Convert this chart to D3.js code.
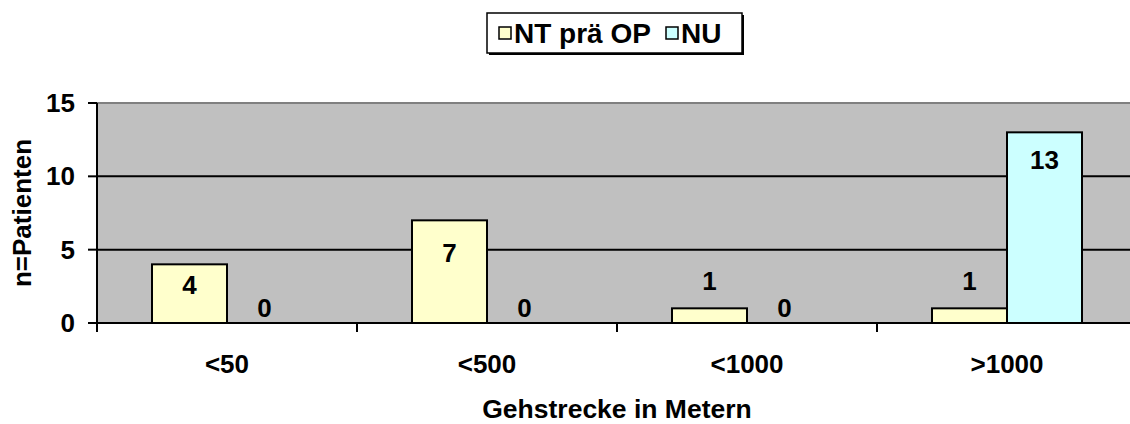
<!DOCTYPE html>
<html>
<head>
<meta charset="utf-8">
<script src="https://cdn.jsdelivr.net/npm/d3@7"></script>
<style>
  body { margin: 0; background: #fff; }
  text { font-family: "Liberation Sans", Arial, sans-serif; font-weight: bold; fill: #000; }
</style>
</head>
<body>
<div id="chart"></div>
<script>
// data
var categories = ["<50", "<500", "<1000", ">1000"];
var seriesNames = ["NT prä OP", "NU"];
var ntValues = [4, 7, 1, 1];
var nuValues = [0, 0, 0, 13];
var yTicks = [0, 5, 10, 15];
var xTitle = "Gehstrecke in Metern";
var yTitle = "n=Patienten";

var W = 1130, H = 424;
var margin = {top: 103, left: 97, bottom: 101};
var plotW = 1040, plotH = H - margin.top - margin.bottom;

var colors = {"NT prä OP": "#ffffcc", "NU": "#ccffff"};

var svg = d3.select("#chart").append("svg")
    .attr("width", W).attr("height", H);

var g = svg.append("g")
    .attr("transform", "translate(" + margin.left + "," + margin.top + ")");

var x0 = d3.scaleBand().domain(categories).range([0, plotW]).padding(0);
var x1 = d3.scaleBand().domain(seriesNames).range([0, x0.bandwidth()])
    .paddingInner(0).paddingOuter(0.7333);
var y = d3.scaleLinear().domain([0, 15]).range([plotH, 0]);

// plot background
g.append("rect")
    .attr("x", 0).attr("y", 0)
    .attr("width", plotW).attr("height", plotH)
    .style("fill", "#c0c0c0");

g.append("line")
    .attr("x1", 0).attr("x2", plotW).attr("y1", 0).attr("y2", 0)
    .style("stroke", "#808080").style("stroke-width", 2);

// gridlines
g.selectAll(".grid")
  .data(yTicks.filter(function(d) { return d > 0 && d < 15; }))
  .enter().append("line")
    .attr("x1", 0).attr("x2", plotW)
    .attr("y1", function(d) { return y(d); })
    .attr("y2", function(d) { return y(d); })
    .style("stroke", "#000").style("stroke-width", 2);

// bars
var rows = categories.map(function(c, i) {
  return [
    {cat: c, s: seriesNames[0], v: ntValues[i], i: i},
    {cat: c, s: seriesNames[1], v: nuValues[i], i: i}
  ];
});

var groups = g.selectAll(".grp")
  .data(rows)
  .enter().append("g")
    .attr("transform", function(d) { return "translate(" + x0(d[0].cat) + ",0)"; });

groups.selectAll("rect")
  .data(function(d) { return d.filter(function(e) { return e.v > 0; }); })
  .enter().append("rect")
    .attr("x", function(d) { return x1(d.s); })
    .attr("y", function(d) { return y(d.v); })
    .attr("width", x1.bandwidth())
    .attr("height", function(d) { return y(0) - y(d.v); })
    .style("fill", function(d) { return colors[d.s]; })
    .style("stroke", "#000").style("stroke-width", 2);

// value labels, pixel offset from the bar top as placed in the original
var ntLabelOff = [21, 33, -27, -27];
var nuLabelOff = [-15, -15, -15, 28];

groups.selectAll(".lbl")
  .data(function(d) { return d; })
  .enter().append("text")
    .attr("x", function(d) { return x1(d.s) + x1.bandwidth() / 2; })
    .attr("y", function(d) {
      var off = d.s === seriesNames[0] ? ntLabelOff[d.i] : nuLabelOff[d.i];
      return y(d.v) + off;
    })
    .attr("text-anchor", "middle")
    .attr("dominant-baseline", "central")
    .style("font-size", "26px")
    .text(function(d) { return d.v; });

// x axis
var xAxis = g.append("g")
    .attr("transform", "translate(0," + plotH + ")");
xAxis.append("line")
    .attr("x1", 0).attr("x2", plotW)
    .style("stroke", "#000").style("stroke-width", 2);
xAxis.selectAll(".tk")
  .data(d3.range(categories.length + 1))
  .enter().append("line")
    .attr("x1", function(d) { return d * x0.step(); })
    .attr("x2", function(d) { return d * x0.step(); })
    .attr("y1", 0).attr("y2", 9)
    .style("stroke", "#000").style("stroke-width", 2);
xAxis.selectAll(".cl")
  .data(categories)
  .enter().append("text")
    .attr("x", function(d) { return x0(d) + x0.bandwidth() / 2; })
    .attr("y", 41)
    .attr("text-anchor", "middle")
    .attr("dominant-baseline", "central")
    .style("font-size", "26px")
    .text(function(d) { return d; });

// y axis
var yAxis = g.append("g");
yAxis.append("line")
    .attr("x1", 0).attr("x2", 0).attr("y1", 0).attr("y2", plotH + 9)
    .style("stroke", "#000").style("stroke-width", 2);
yAxis.selectAll(".yt")
  .data(yTicks)
  .enter().append("line")
    .attr("x1", -9).attr("x2", 0)
    .attr("y1", function(d) { return y(d); })
    .attr("y2", function(d) { return y(d); })
    .style("stroke", "#000").style("stroke-width", 2);
yAxis.selectAll(".yl")
  .data(yTicks)
  .enter().append("text")
    .attr("x", -22)
    .attr("y", function(d) { return y(d); })
    .attr("text-anchor", "end")
    .attr("dominant-baseline", "central")
    .style("font-size", "26px")
    .text(function(d) { return d; });

// axis titles
svg.append("text")
    .attr("x", 617).attr("y", 409)
    .attr("text-anchor", "middle")
    .attr("dominant-baseline", "central")
    .style("font-size", "26.5px")
    .text(xTitle);

svg.append("text")
    .attr("transform", "translate(22,213) rotate(-90)")
    .attr("text-anchor", "middle")
    .attr("dominant-baseline", "central")
    .style("font-size", "26px")
    .text(yTitle);

// legend
var leg = svg.append("g").attr("transform", "translate(487,13)");
leg.append("rect")
    .attr("x", 2).attr("y", 2).attr("width", 255).attr("height", 40)
    .style("fill", "#000");
leg.append("rect")
    .attr("x", 0).attr("y", 0).attr("width", 255).attr("height", 40)
    .style("fill", "#fff").style("stroke", "#000").style("stroke-width", 1.5);

var legX = [12, 179];
seriesNames.forEach(function(s, i) {
  leg.append("rect")
      .attr("x", legX[i]).attr("y", 14)
      .attr("width", 12).attr("height", 12)
      .style("fill", colors[s]).style("stroke", "#000").style("stroke-width", 1.5);
  leg.append("text")
      .attr("x", legX[i] + 15).attr("y", 20)
      .attr("dominant-baseline", "central")
      .style("font-size", "28px")
      .text(s);
});
</script>
</body>
</html>
